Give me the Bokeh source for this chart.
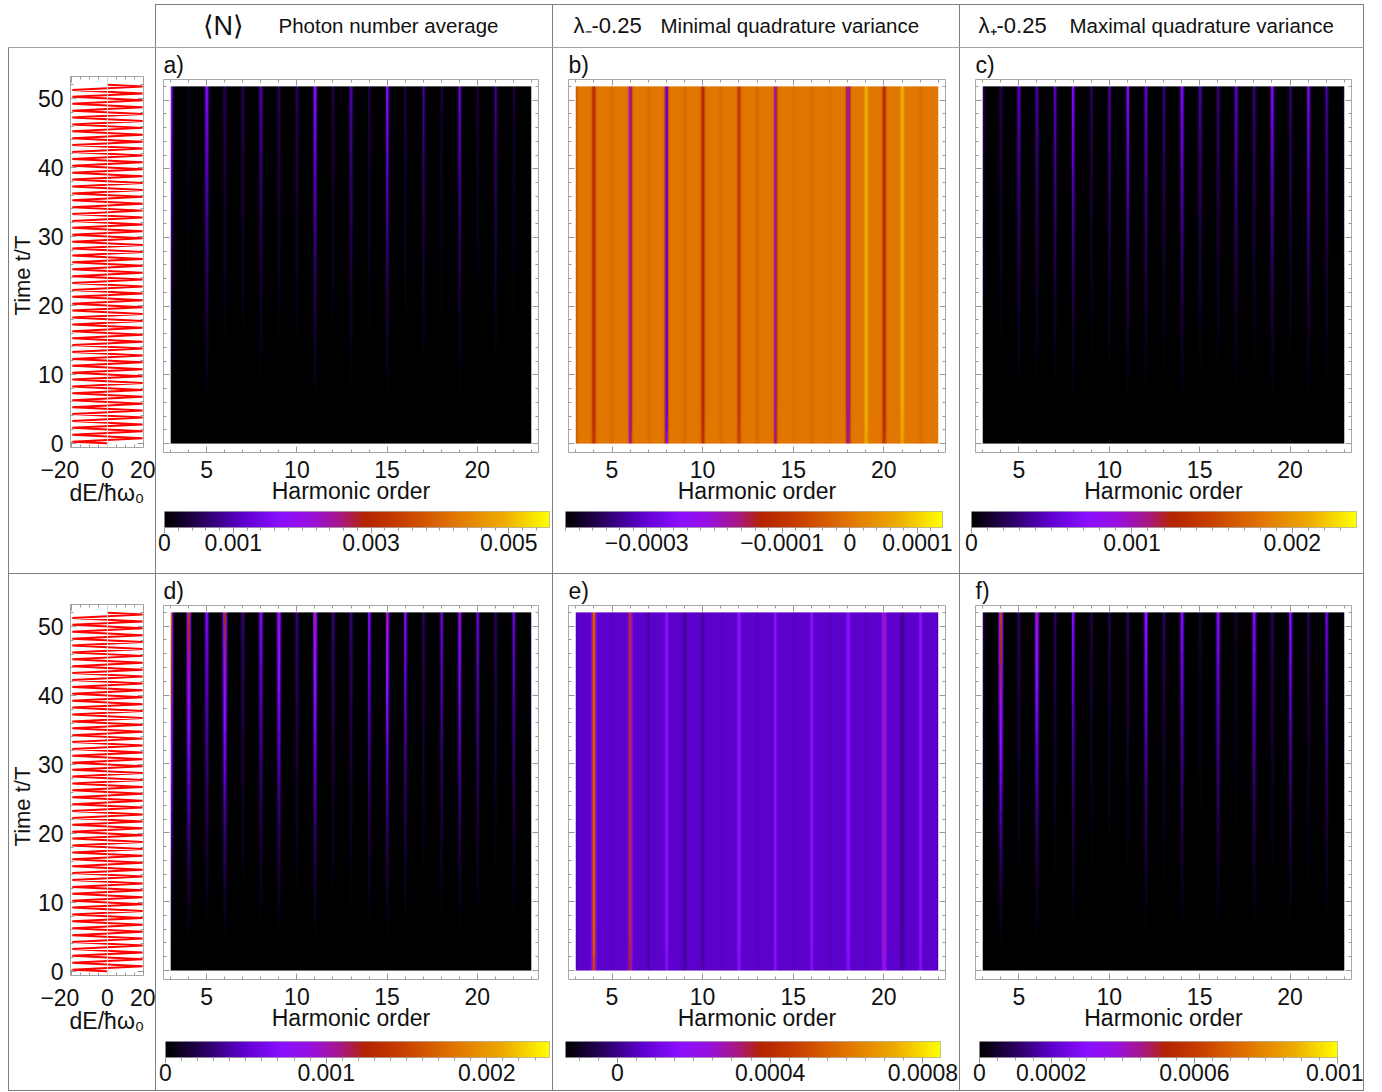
import math
import numpy as np
from bokeh.plotting import figure
from bokeh.layouts import row, column
from bokeh.models import (Range1d, LinearAxis, FixedTicker, LinearColorMapper,
                          CustomJSTickFormatter, Span, Label, Spacer)
from bokeh.embed import file_html
from bokeh.resources import INLINE

FONT = "Liberation Sans"
LINE = "#808080"
TICK = "#9a9a9a"

# ---------------- data ----------------
harmonics = [3, 4, 5, 6, 7, 8, 9, 10, 11, 12, 13, 14, 15, 16, 17, 18, 19, 20, 21, 22, 23]
time_knots = [0, 2, 4, 6, 8, 10, 12, 14, 16, 18, 20, 22, 24, 26, 28, 30, 32, 34, 36, 38, 40,
              42, 44, 46, 48, 50, 52]
growth_slow = [0.0, 0.008, 0.021, 0.039, 0.060, 0.084, 0.111, 0.140, 0.171, 0.204, 0.239,
               0.275, 0.314, 0.354, 0.395, 0.438, 0.483, 0.529, 0.576, 0.625, 0.675, 0.726,
               0.778, 0.832, 0.887, 0.943, 1.0]
growth_fast = [0.85, 0.95, 0.98, 1.0, 1.0, 1.0, 1.0, 1.0, 1.0, 1.0, 1.0, 1.0, 1.0, 1.0, 1.0,
               1.0, 1.0, 1.0, 1.0, 1.0, 1.0, 1.0, 1.0, 1.0, 1.0, 1.0, 1.0]

# stripe values at t = 52 for each harmonic order
a_peaks = [0.0020, 0.0002, 0.0017, 0.0005, 0.0005, 0.0010, 0.0005, 0.0005, 0.0017, 0.0004, 0.0010,
           0.0004, 0.0017, 0.0004, 0.0010, 0.0004, 0.0016, 0.0004, 0.0010, 0.0004, 0.0003]
b_peaks = [-0.00005, -0.00013, -0.00002, -0.00025, -0.00002, -0.00033, -0.00002, -0.00013,
           -0.00002, -0.00010, -0.00002, -0.00021, -0.00001, -0.00002, -0.00001, -0.00024,
           0.00008, -0.00013, 0.00008, -0.00002, 0.0]
c_peaks = [0.0003, 0.0002, 0.0005, 0.0004, 0.0005, 0.0007, 0.0003, 0.0005, 0.0007, 0.0005, 0.0003,
           0.0007, 0.0004, 0.0003, 0.0005, 0.0003, 0.0007, 0.0003, 0.0007, 0.0005, 0.0003]
d_peaks = [0.0019, 0.0014, 0.0007, 0.0013, 0.0003, 0.0007, 0.0010, 0.0003, 0.0011, 0.0003, 0.0003,
           0.0007, 0.0011, 0.0007, 0.0003, 0.0007, 0.0011, 0.0007, 0.0003, 0.0007, 0.0003]
e_peaks = [0.00004, 0.0006, 0.00005, 0.00045, 0.00001, 0.00017, 0.00001, 0.00002, 0.00005, 0.00017,
           0.00005, 0.00017, 0.00005, 0.00017, 0.00005, 0.00017, 0.00005, 0.0003, 0.00001, 0.00017,
           0.00005]
f_peaks = [0.0001, 0.00065, 0.0001, 0.00045, 0.0001, 0.0003, 0.0001, 0.0001, 0.0001, 0.00033, 0.0001,
           0.0003, 0.00005, 0.0003, 0.00005, 0.0003, 0.0001, 0.00033, 0.0001, 0.0003, 0.00005]

backgrounds = {"a": 0.0, "b": 0.0, "c": 0.0, "d": 0.0, "e": 0.00006, "f": 0.0}
color_low = {"a": 0.0, "b": -0.00042, "c": 0.0, "d": 0.0, "e": -0.000136, "f": 0.0}
color_high = {"a": 0.00559, "b": 0.000137, "c": 0.0024, "d": 0.00239, "e": 0.000846, "f": 0.001}
cb_ticks = {"a": [0.0, 0.001, 0.003, 0.005], "b": [-0.0003, -0.0001, 0.0, 0.0001],
            "c": [0.0, 0.001, 0.002], "d": [0.0, 0.001, 0.002], "e": [0.0, 0.0004, 0.0008],
            "f": [0.0, 0.0002, 0.0006, 0.001]}
cb_labels = {"a": ["0", "0.001", "0.003", "0.005"], "b": ["\u22120.0003", "\u22120.0001", "0", "0.0001"],
             "c": ["0", "0.001", "0.002"], "d": ["0", "0.001", "0.002"], "e": ["0", "0.0004", "0.0008"],
             "f": ["0", "0.0002", "0.0006", "0.001"]}
cb_minor_step = {"a": 0.0002, "b": 0.00002, "c": 0.0001, "d": 0.0001, "e": 0.00005, "f": 0.00005}
panel_tags = {"a": "a)", "b": "b)", "c": "c)", "d": "d)", "e": "e)", "f": "f)"}
panel_peaks = {"a": a_peaks, "b": b_peaks, "c": c_peaks, "d": d_peaks, "e": e_peaks, "f": f_peaks}
panel_growth = {"a": growth_slow, "b": growth_fast, "c": growth_slow,
                "d": growth_slow, "e": growth_fast, "f": growth_slow}

header_symbols = ["\u27e8N\u27e9", "\u03bb\u208b-0.25", "\u03bb\u208a-0.25"]
header_titles = ["Photon number average", "Minimal quadrature variance", "Maximal quadrature variance"]
drive_xlabel = "dE/\u0127\u03c9\u2080"
drive_ylabel = "Time  t/T"

# drive: dE(t) zig-zag between the turning points
drive_amplitude = 19.5
drive_cycles = 52
drive_t = [0.0] + [0.25 + 0.5 * k for k in range(2 * drive_cycles)] + [52.0]
drive_dE = [0.0] + [-drive_amplitude, drive_amplitude] * drive_cycles + [0.0]

# colormap anchors
cmap_pos = [0.0, 0.1, 0.2, 0.3, 0.38, 0.46, 0.52, 0.62, 0.75, 0.88, 1.0]
cmap_hex = ["#000000", "#2a0060", "#5c00cc", "#8a10ff", "#9810e0", "#a81880", "#b42400",
            "#c84000", "#e07400", "#eeaa00", "#ffff00"]


def build_palette(n=256):
    rgb = np.array([[int(h[i:i + 2], 16) for i in (1, 3, 5)] for h in cmap_hex], float)
    s = np.linspace(0, 1, n)
    ch = [np.interp(s, cmap_pos, rgb[:, c]) for c in range(3)]
    return ["#%02x%02x%02x" % (int(round(r)), int(round(g)), int(round(b))) for r, g, b in zip(*ch)]


PALETTE = build_palette()
x_cols = np.linspace(3, 23, 400, endpoint=False) + 0.025


def build_image(peaks, background, growth, width=0.065):
    dev = np.zeros_like(x_cols)
    for h, v in zip(harmonics, peaks):
        dev += (v - background) * np.exp(-0.5 * ((x_cols - h) / width) ** 2)
    g = np.asarray(growth)[:, None]
    return background + g * dev[None, :]


def tick_axis(ticks, minor, **kw):
    base = dict(ticker=FixedTicker(ticks=ticks, minor_ticks=minor), major_tick_in=6, major_tick_out=0,
                minor_tick_in=3, minor_tick_out=0, major_tick_line_color=TICK,
                minor_tick_line_color=TICK, axis_line_color=None,
                major_label_text_font=FONT, major_label_text_font_size="23px",
                major_label_text_color="#111111")
    base.update(kw)
    return LinearAxis(**base)


def blank_axis(ticks, minor):
    return tick_axis(ticks, minor, major_label_text_font_size="0px", major_label_standoff=0,
                     major_label_text_color=None)


def label_formatter(vals, labs):
    return CustomJSTickFormatter(args=dict(vals=vals, labs=labs), code="""
        for (let i = 0; i < vals.length; i++) { if (Math.abs(tick - vals[i]) < 1e-12) return labs[i]; }
        return '';""")


def base_fig(w, h, xr, yr, ml, mr, mt, mb, **kw):
    p = figure(width=w, height=h, x_range=xr, y_range=yr, output_backend="svg",
               toolbar_location=None, x_axis_location=None, y_axis_location=None,
               min_border_left=ml, min_border_right=mr, min_border_top=mt, min_border_bottom=mb,
               frame_align=False, **kw)
    p.xgrid.grid_line_color = None
    p.ygrid.grid_line_color = None
    return p


def heat_panel(key, w, h, ml, mr, mt, mb):
    mapper = LinearColorMapper(palette=PALETTE, low=color_low[key], high=color_high[key])
    p = base_fig(w, h, Range1d(2.6, 23.4), Range1d(-1.3, 53.0), ml, mr, mt, mb, title=panel_tags[key])
    p.title.text_font = FONT
    p.title.text_font_size = "23px"
    p.title.text_font_style = "normal"
    p.title.text_color = "#111111"
    p.title.align = "left"
    p.title.standoff = 3
    p.outline_line_color = "#a8a8a8"
    img = build_image(panel_peaks[key], backgrounds[key], panel_growth[key])
    p.image(image=[img], x=3, y=0, dw=20, dh=52, color_mapper=mapper)

    xt = [5, 10, 15, 20]
    xm = list(range(3, 24))
    yt = [0, 10, 20, 30, 40, 50]
    ym = list(range(0, 53, 2))
    p.add_layout(tick_axis(xt, xm, axis_label="Harmonic order", axis_label_text_font=FONT,
                           axis_label_text_font_size="23px", axis_label_text_font_style="normal",
                           axis_label_text_color="#111111",
                           major_label_standoff=8, axis_label_standoff=-3), "below")
    p.add_layout(blank_axis(yt, ym), "left")
    p.add_layout(blank_axis(xt, xm), "above")
    p.add_layout(blank_axis(yt, ym), "right")
    return p, mapper


def colorbar_panel(key, mapper, w, h, ml, bar_w, top):
    lo, hi, st = color_low[key], color_high[key], cb_minor_step[key]
    p = base_fig(w, h, Range1d(lo, hi), Range1d(0, 1), ml, w - ml - bar_w, top, h - top - 16)
    p.outline_line_color = "#b0b0b0"
    grad = np.linspace(lo, hi, 256)[None, :]
    p.image(image=[grad], x=lo, y=0, dw=hi - lo, dh=1, color_mapper=mapper)
    k0 = int(np.ceil(lo / st - 1e-9))
    k1 = int(np.floor(hi / st + 1e-9))
    minor = [k * st for k in range(k0, k1 + 1)]
    p.add_layout(tick_axis(cb_ticks[key], minor, major_tick_in=0, major_tick_out=6,
                           minor_tick_in=0, minor_tick_out=3, major_label_standoff=0,
                           formatter=label_formatter(cb_ticks[key], cb_labels[key])), "below")
    return p


def heat_cell(key, w, h, ml, mr, mt, heat_bottom, cb_ml, cb_w, cb_top):
    heat_h = mt + 375 + heat_bottom
    p, mapper = heat_panel(key, w, heat_h, ml, mr, mt, heat_bottom)
    cb = colorbar_panel(key, mapper, w, h - heat_h, cb_ml, cb_w, cb_top)
    return column(p, cb, spacing=0)


STRIP_W = 25


def drive_panel(h, mt, mb):
    p = base_fig(146 - STRIP_W, h, Range1d(-20.5, 20.0), Range1d(-0.6, 53.2), 59 - STRIP_W, 12, mt, mb)
    p.outline_line_color = "#a8a8a8"
    p.add_layout(Span(location=0, dimension="height", line_color="#dddddd", line_width=1))
    p.line(drive_dE, drive_t, line_color="#ff0000", line_width=2.0)
    xt = [-20, 0, 20]
    xm = [-15, -10, -5, 5, 10, 15]
    yt = [0, 10, 20, 30, 40, 50]
    ym = list(range(0, 53, 2))
    p.add_layout(tick_axis(xt, xm, axis_label=drive_xlabel, axis_label_text_font=FONT,
                           axis_label_text_font_size="23px", axis_label_text_font_style="normal",
                           axis_label_text_color="#111111",
                           major_label_standoff=9, axis_label_standoff=-6,
                           formatter=label_formatter(xt, ["\u221220\u2002\u2002", "0", "20"])), "below")
    p.add_layout(tick_axis(yt, ym, major_label_standoff=7), "left")
    p.add_layout(blank_axis(xt, xm), "above")
    p.add_layout(blank_axis(yt, ym), "right")
    return p


def ytitle_panel(h, center_from_top):
    # narrow strip holding the rotated y title of the drive plot
    p = base_fig(STRIP_W, h, Range1d(0, STRIP_W), Range1d(0, h), 0, 0, 0, 0)
    p.outline_line_color = None
    p.add_layout(Label(x=STRIP_W / 2, y=h - center_from_top, text=drive_ylabel, angle=math.pi / 2,
                       angle_units="rad", text_font=FONT, text_font_size="22px", text_align="center",
                       text_baseline="middle", text_color="#111111"))
    return p


def header_panel(w, h, idx, sym_x, txt_x, sym_size):
    p = base_fig(w, h, Range1d(0, w), Range1d(0, h), 0, 0, 0, 0)
    p.outline_line_color = None
    p.add_layout(Label(x=sym_x, y=h / 2 + 1, text=header_symbols[idx], text_font=FONT,
                       text_font_size=sym_size, text_baseline="middle", text_align="left",
                       text_color="#111111"))
    p.add_layout(Label(x=txt_x, y=h / 2 + 1, text=header_titles[idx], text_font=FONT,
                       text_font_size="20.5px", text_baseline="middle", text_align="left",
                       text_color="#111111"))
    return p


def vline(h):
    return Spacer(width=1, height=h, styles={"background-color": LINE})


def hline(w, color=LINE):
    return Spacer(width=w, height=1, styles={"background-color": color})


W0, W1, W2, W3 = 146, 396, 406, 403
HH, H1, H2 = 42, 525, 516

h1 = header_panel(W1, HH, 0, 46, 122, "27px")
h2 = header_panel(W2, HH, 1, 20, 107, "22px")
h3 = header_panel(W3, HH, 2, 18, 109, "22px")

ca = heat_cell("a", W1, H1, 7, 14, 29, 54, 8, 385, 5)
cbb = heat_cell("b", W2, H1, 15, 14, 29, 54, 12, 377, 5)
cc = heat_cell("c", W3, H1, 15, 12, 29, 54, 11, 385, 5)
cd = heat_cell("d", W1, H2, 7, 14, 30, 54, 9, 384, 8)
ce = heat_cell("e", W2, H2, 15, 14, 30, 54, 12, 375, 8)
cf = heat_cell("f", W3, H2, 15, 12, 30, 54, 19, 358, 8)

l1 = row(ytitle_panel(H1, 224), drive_panel(H1, 28, 126), spacing=0)
l2 = row(ytitle_panel(H2, 229), drive_panel(H2, 30, 115), spacing=0)

layout = column(
    Spacer(width=1364, height=4),
    row(Spacer(width=155, height=43),
        column(hline(1209),
               row(vline(HH), h1, vline(HH), h2, vline(HH), h3, vline(HH), spacing=0), spacing=0),
        spacing=0),
    row(Spacer(width=8, height=1), hline(1356, "#a0a0a0"), spacing=0),
    row(Spacer(width=8, height=H1), vline(H1), l1, vline(H1), ca, vline(H1), cbb, vline(H1), cc,
        vline(H1), spacing=0),
    row(Spacer(width=8, height=1), hline(1356), spacing=0),
    row(Spacer(width=8, height=H2), vline(H2), l2, vline(H2), cd, vline(H2), ce, vline(H2), cf,
        vline(H2), spacing=0),
    row(Spacer(width=8, height=1), hline(1356), spacing=0),
    spacing=0,
)

open("out.html", "w").write(file_html(layout, INLINE))
